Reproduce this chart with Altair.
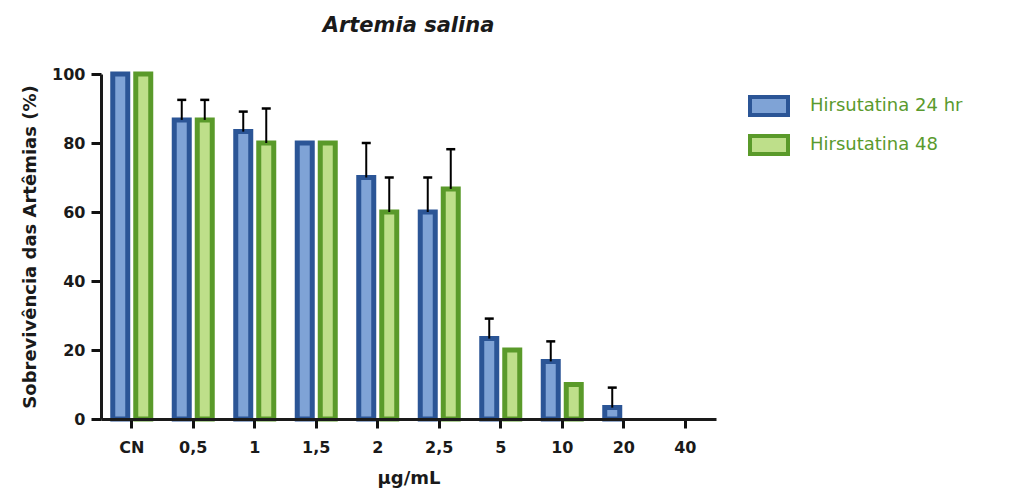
import altair as alt
import pandas as pd

categories = ["CN", "0,5", "1", "1,5", "2", "2,5", "5", "10", "20", "40"]
series = ["Hirsutatina 24 hr", "Hirsutatina 48"]
v24 = [100, 86.7, 83.3, 80, 70, 60, 23.3, 16.7, 3.3, 0]
e24 = [0, 5.8, 5.8, 0, 10, 10, 5.8, 5.8, 5.8, 0]
v48 = [100, 86.7, 80, 80, 60, 66.7, 20, 10, 0, 0]
e48 = [0, 5.8, 10, 0, 10, 11.5, 0, 0, 0, 0]
y_ticks = [0, 20, 40, 60, 80, 100]

rows = []
for i, c in enumerate(categories):
    rows.append(dict(cat=c, series=series[0], value=v24[i], err=e24[i], upper=v24[i] + e24[i]))
    rows.append(dict(cat=c, series=series[1], value=v48[i], err=e48[i], upper=v48[i] + e48[i]))
df = pd.DataFrame(rows)

FONT = "DejaVu Sans"
INK = "#1a1a1a"
fills = ["#7fa3d6", "#bedf8a"]
strokes = ["#2b5596", "#5a9a2a"]
H = 345

xaxis = alt.Axis(title="µg/mL", labelAngle=0, ticks=True, tickSize=9, labelPadding=11,
                 titlePadding=14, zindex=2)
xscale = alt.Scale(domain=categories, paddingInner=0.382, paddingOuter=0.191)
xenc = alt.X("cat:N", sort=categories, scale=xscale, axis=xaxis)
xoff = alt.XOffset("series:N", sort=series,
                   scale=alt.Scale(domain=series, paddingInner=0.348, paddingOuter=0))
yaxis = alt.Axis(title="Sobrevivência das Artêmias (%)", values=y_ticks, ticks=True,
                 tickSize=10, labelPadding=6, titlePadding=12, zindex=2)
yscale = alt.Scale(domain=[0, 100], nice=False)

bars = alt.Chart(df).mark_bar(strokeWidth=5).encode(
    x=xenc,
    xOffset=xoff,
    y=alt.Y("value:Q", scale=yscale, axis=yaxis),
    color=alt.Color("series:N", sort=series, scale=alt.Scale(domain=series, range=fills),
                    legend=alt.Legend(title=None)),
    stroke=alt.Stroke("series:N", sort=series, scale=alt.Scale(domain=series, range=strokes),
                      legend=alt.Legend(title=None)),
).transform_filter("datum.value > 0")

err_base = alt.Chart(df).transform_filter("datum.err > 0")
rules = err_base.mark_rule(color="black", strokeWidth=2).encode(
    x=xenc, xOffset=xoff,
    y=alt.Y("value:Q", scale=yscale),
    y2="upper:Q",
)
caps = err_base.mark_point(shape="M-1,0H1", size=81, stroke="black", strokeWidth=2.5,
                           filled=False, opacity=1).encode(
    x=xenc, xOffset=xoff,
    y=alt.Y("upper:Q", scale=yscale),
)

chart = alt.layer(bars, rules, caps).properties(
    width=615, height=H,
    autosize=alt.AutoSizeParams(type="none"),
    padding={"left": 93, "top": 66, "right": 300, "bottom": 70},
    title=alt.Title("Artemia salina", font=FONT, fontSize=21, fontStyle="italic",
                    fontWeight="bold", color=INK, anchor="middle", offset=30),
).configure_view(stroke=None, fill=None).configure_axis(
    grid=False, domainColor=INK, domainWidth=3,
    tickColor="#111111", tickWidth=3, tickOpacity=1, tickCap="butt",
    labelFont=FONT, labelFontSize=16, labelFontWeight="bold", labelColor=INK,
    titleFont=FONT, titleFontSize=18, titleFontWeight="bold", titleColor=INK,
).configure_legend(
    orient="none", legendX=647, legendY=11,
    symbolType="M-1,-0.47H1V0.47H-1Z", symbolSize=1444, symbolStrokeWidth=4,
    symbolOpacity=1, labelFont=FONT, labelFontSize=18, labelColor="#5a9a2e",
    labelOffset=20, rowPadding=1, labelLimit=400,
)

chart.save("out.html", embed_options={"renderer": "svg", "actions": False})
